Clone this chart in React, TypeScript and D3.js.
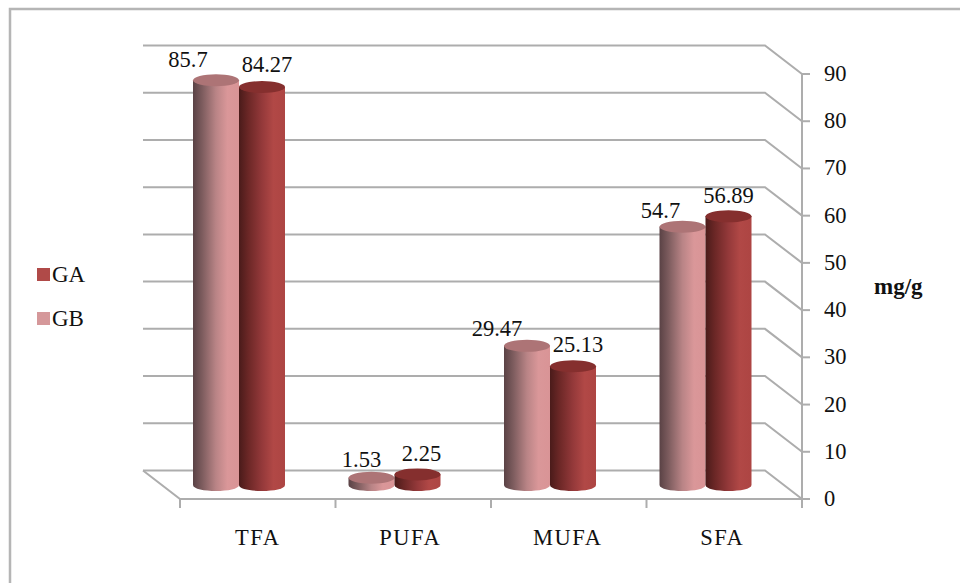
import { useEffect, useRef } from 'react';
import * as d3 from 'd3';

const categories = ['TFA', 'PUFA', 'MUFA', 'SFA'];
const seriesNames = ['GB', 'GA'];
const gbValues = [85.7, 1.53, 29.47, 54.7];
const gaValues = [84.27, 2.25, 25.13, 56.89];
const gbLabels = ['85.7', '1.53', '29.47', '54.7'];
const gaLabels = ['84.27', '2.25', '25.13', '56.89'];
const yTicks = [0, 10, 20, 30, 40, 50, 60, 70, 80, 90];

const W = 960;
const H = 583;
const FONT = '"Liberation Serif", "Times New Roman", serif';
const GRID = '#adadad';

// the labels were dragged by hand in the original chart
const gbLabelNudge: [number, number][] = [[-28, -13], [-10, -11], [-30, -10], [-22, -9]];
const gaLabelNudge: [number, number][] = [[5, -15], [4, -13], [5, -14], [0, -13]];
const categoryNudge = [0, -3, -1, -2];

const palette: Record<string, { stops: [number, string][]; top: string; legend: string }> = {
  GB: {
    stops: [[0, '#5a4245'], [0.2, '#7d5c5e'], [0.5, '#b98486'], [0.75, '#da9799'], [1, '#d99496']],
    top: '#ad7476',
    legend: '#d5989a',
  },
  GA: {
    stops: [[0, '#4a1b1a'], [0.2, '#6b2726'], [0.5, '#94393a'], [0.75, '#b14846'], [1, '#ad4543']],
    top: '#852f2e',
    legend: '#b04a48',
  },
};

export default function App() {
  const ref = useRef<SVGSVGElement | null>(null);
  useEffect(() => {
    document.body.style.margin = '0';
    const svg = d3.select(ref.current!);
    svg.selectAll('*').remove();
    svg.attr('viewBox', `0 0 ${W} ${H}`);

    svg.append('rect').attr('width', W).attr('height', H).attr('fill', '#fff');
    svg.append('path').attr('d', `M10 ${H}V9H${W}`)
      .attr('fill', 'none').attr('stroke', '#b5b5b5').attr('stroke-width', 2.5);

    const y = d3.scaleLinear().domain([0, 90]).range([499, 74]);
    const x = d3.scaleBand<string>().domain(categories).range([180, 802]);
    const depthX = -37;
    const depthY = -28.5;

    const defs = svg.append('defs');
    seriesNames.forEach((s) => {
      const g = defs.append('linearGradient').attr('id', `cyl-${s}`);
      palette[s].stops.forEach(([o, c]) => g.append('stop').attr('offset', o).attr('stop-color', c));
    });

    // back wall gridlines and their diagonals to the axis
    const grid = svg.append('g').attr('fill', 'none').attr('stroke', GRID).attr('stroke-width', 2);
    yTicks.forEach((t) => {
      const yy = y(t);
      const path = d3.path();
      path.moveTo(180 + depthX, yy + depthY);
      path.lineTo(802 + depthX, yy + depthY);
      path.lineTo(802, yy);
      grid.append('path').attr('d', path.toString());
    });
    // floor edges
    const floor = d3.path();
    floor.moveTo(180 + depthX, y(0) + depthY);
    floor.lineTo(180, y(0));
    floor.lineTo(802, y(0));
    grid.append('path').attr('d', floor.toString());

    // value axis
    const axis = svg.append('g').attr('stroke', GRID).attr('stroke-width', 2);
    axis.append('line').attr('x1', 802).attr('x2', 802).attr('y1', y(90)).attr('y2', y(0) + 9);
    yTicks.forEach((t) => {
      axis.append('line').attr('x1', 802).attr('x2', 810).attr('y1', y(t)).attr('y2', y(t));
    });
    [...categories.map((c) => x(c) ?? 0), 802].forEach((tx) => {
      axis.append('line').attr('x1', tx).attr('x2', tx).attr('y1', y(0)).attr('y2', y(0) + 9);
    });

    const txt = svg.append('g').attr('font-family', FONT).attr('font-size', 22.5).attr('fill', '#111');
    yTicks.forEach((t) => {
      txt.append('text').attr('x', 824).attr('y', y(t) + 7).text(t);
    });
    categories.forEach((c, i) => {
      txt.append('text').attr('x', (x(c) ?? 0) + x.bandwidth() / 2 + categoryNudge[i]).attr('y', 545)
        .attr('text-anchor', 'middle').attr('letter-spacing', 1.5).text(c);
    });
    svg.append('text').attr('x', 874).attr('y', 294).attr('font-family', FONT)
      .attr('font-size', 23).attr('font-weight', 'bold').attr('fill', '#111').text('mg/g');

    // legend
    [['GA', 274.5], ['GB', 318.5]].forEach(([s, ly]) => {
      svg.append('rect').attr('x', 37).attr('y', (ly as number) - 6.5).attr('width', 13).attr('height', 13)
        .attr('fill', palette[s as string].legend);
      txt.append('text').attr('x', 52).attr('y', (ly as number) + 7).attr('font-size', 23).text(s as string);
    });

    // cylinders, value scale shares the axis' 4.72 px per unit
    const base = 485;
    const barW = 46;
    const ry = 6;
    const offset = 13;
    const unit = y(0) - y(1);
    const bars = svg.append('g');
    const series: [string, number[], string[], number, [number, number][]][] = [
      ['GB', gbValues, gbLabels, 0, gbLabelNudge],
      ['GA', gaValues, gaLabels, 1, gaLabelNudge],
    ];
    categories.forEach((c, i) => {
      series.forEach(([name, vals, labels, k, nudge]) => {
        const left = (x(c) ?? 0) + offset + k * barW;
        const top = base - vals[i] * unit;
        const rx = barW / 2;
        const body = d3.path();
        body.moveTo(left, top);
        body.lineTo(left, base);
        body.bezierCurveTo(left, base + ry * 1.33, left + barW, base + ry * 1.33, left + barW, base);
        body.lineTo(left + barW, top);
        body.closePath();
        bars.append('path').attr('d', body.toString()).attr('fill', `url(#cyl-${name})`);
        bars.append('ellipse').attr('cx', left + rx).attr('cy', top).attr('rx', rx).attr('ry', ry)
          .attr('fill', palette[name].top);
        txt.append('text').attr('x', left + rx + nudge[i][0]).attr('y', top + nudge[i][1])
          .attr('text-anchor', 'middle').text(labels[i]);
      });
    });
    txt.raise();
  }, []);
  return <svg ref={ref} width={W} height={H} style={{ display: 'block' }} />;
}
